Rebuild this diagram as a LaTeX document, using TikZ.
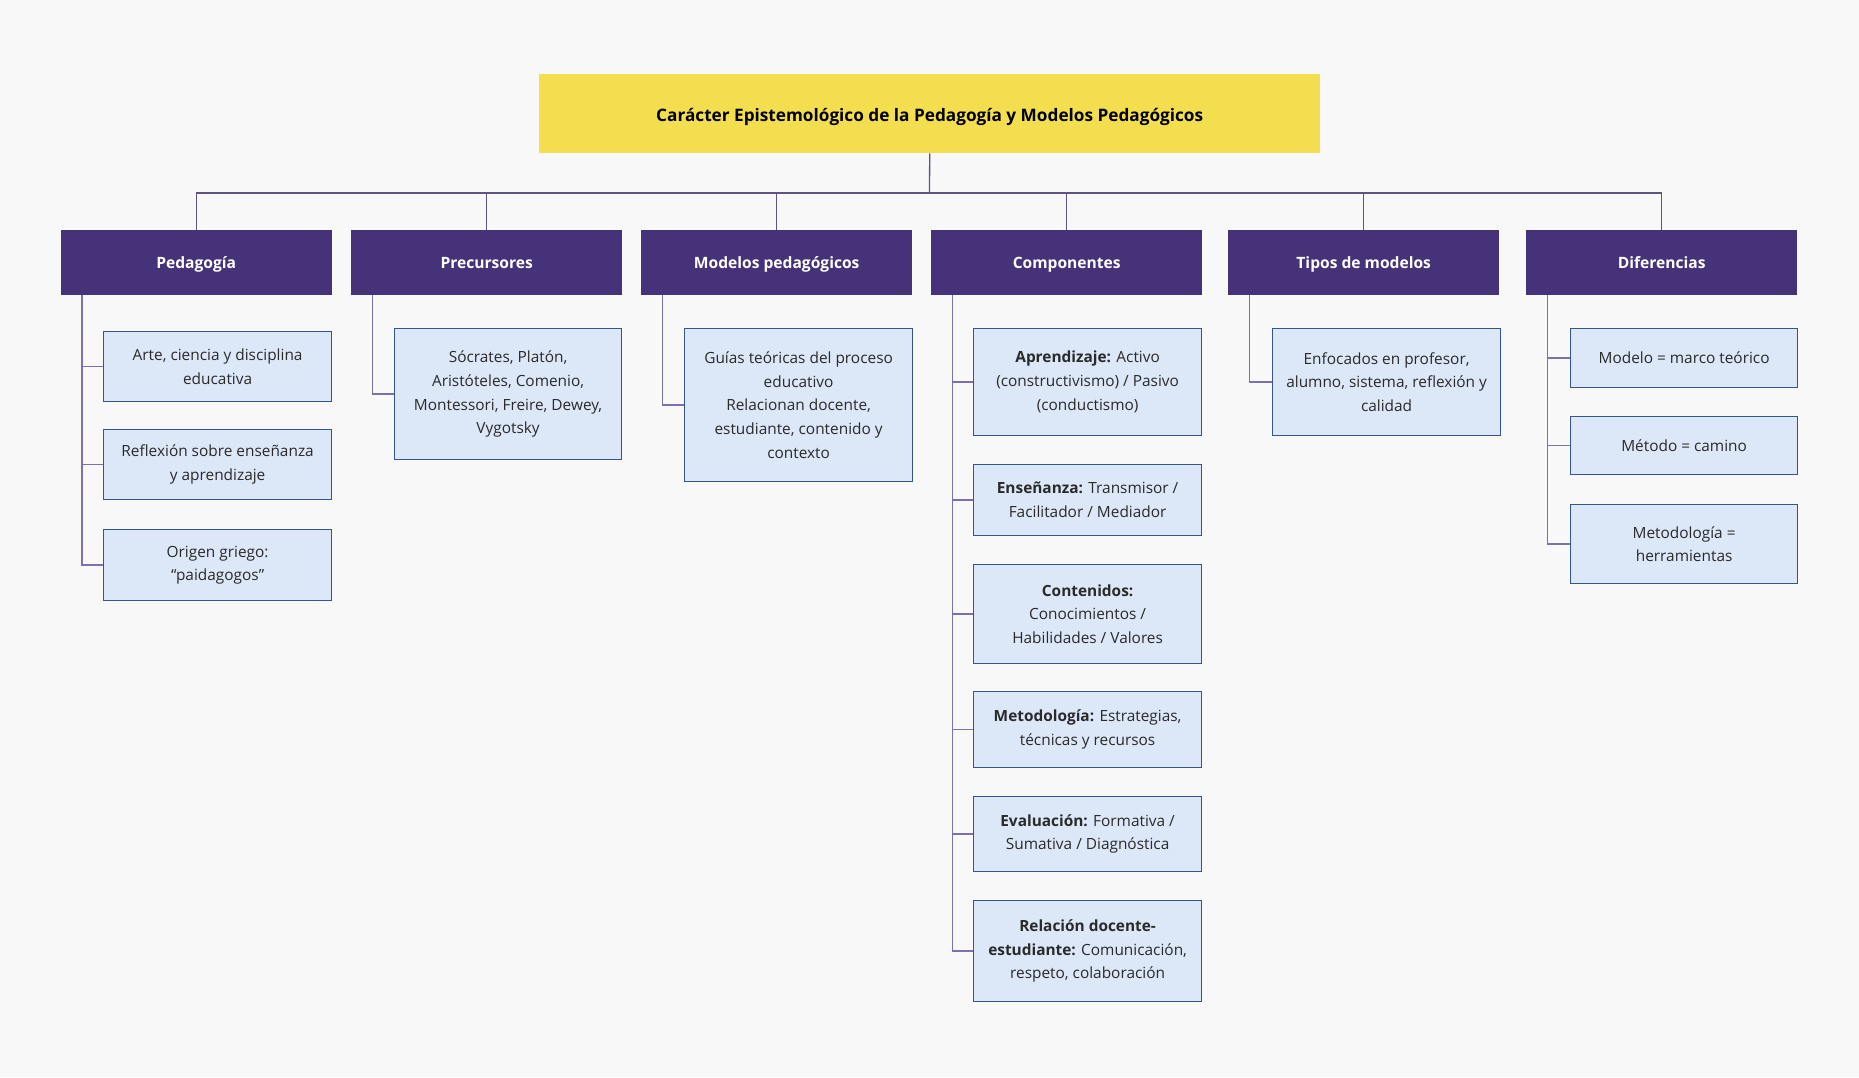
\documentclass[tikz,border=0pt]{standalone}
\usepackage{fontspec}
\setmainfont{Open Sans}
\definecolor{bg}{HTML}{F8F8F8}
\definecolor{titlefill}{HTML}{F2DE4E}
\definecolor{catfill}{HTML}{463278}
\definecolor{childfill}{HTML}{DCE7F8}
\definecolor{childline}{HTML}{34558F}
\definecolor{connline}{HTML}{7E6FAE}
\definecolor{txt}{HTML}{2A2A2A}
\begin{document}
\begin{tikzpicture}[x=1pt,y=-1pt,
  titlebox/.style={fill=titlefill, draw=none, anchor=north west, inner sep=0pt,
    text height=16pt, text depth=0pt,
    font=\fontsize{17.2}{20}\selectfont\bfseries, text=black, align=center},
  catbox/.style={fill=catfill, draw=none, anchor=north west, inner sep=0pt,
    minimum width=271pt, minimum height=65pt, text height=11pt, text depth=0pt,
    font=\fontsize{15.6}{18}\selectfont\bfseries, text=white, align=center},
  childbox/.style={fill=childfill, draw=childline, line width=1.2pt, anchor=north west, inner sep=0pt,
    font=\fontsize{15.4}{23.8}\selectfont, text=txt, align=center},
  conn/.style={draw=connline, line width=1.4pt},
  bus/.style={draw=connline!75!black, line width=1.3pt}
]
\useasboundingbox (0,0) rectangle (1859,1077);
\fill[bg] (0,0) rectangle (1859,1077);

% title
\node[titlebox, minimum width=781pt, minimum height=79.5pt] (title) at (539,73.5)
  {Carácter Epistemológico de la Pedagogía y Modelos Pedagógicos};

% categories
\node[catbox] (ped) at (60.5,230) {Pedagogía};
\node[catbox] (pre) at (351,230) {Precursores};
\node[catbox] (mod) at (641,230) {Modelos pedagógicos};
\node[catbox] (com) at (931,230) {Componentes};
\node[catbox] (tip) at (1228,230) {Tipos de modelos};
\node[catbox] (dif) at (1526,230) {Diferencias};

% bus
\coordinate (busc) at (929.5,193);
\draw[bus] (title.south) -- (busc);
\draw[bus] (ped.north) |- (busc);
\draw[bus] (dif.north) |- (busc);
\foreach \n in {pre,mod,com,tip} { \draw[bus] (\n.north) -- (\n.north |- busc); }

% Pedagogía children
\node[childbox, minimum width=228pt, minimum height=70pt] (p1) at (103,331)
  {Arte, ciencia y disciplina\\educativa};
\node[childbox, minimum width=228pt, minimum height=70pt] (p2) at (103,429)
  {Reflexión sobre enseñanza\\y aprendizaje};
\node[childbox, minimum width=228pt, minimum height=71pt] (p3) at (103,529)
  {Origen griego:\\“paidagogos”};

% Precursores child
\node[childbox, minimum width=227pt, minimum height=131pt] (r1) at (394,328)
  {Sócrates, Platón,\\Aristóteles, Comenio,\\Montessori, Freire, Dewey,\\Vygotsky};

% Modelos child
\node[childbox, minimum width=228pt, minimum height=153pt] (m1) at (684,328)
  {Guías teóricas del proceso\\educativo\\Relacionan docente,\\estudiante, contenido y\\contexto};

% Componentes children
\node[childbox, minimum width=228pt, minimum height=107pt] (a1) at (973,328)
  {\textbf{Aprendizaje:} Activo\\(constructivismo) / Pasivo\\(conductismo)};
\node[childbox, minimum width=228pt, minimum height=71.5pt] (a2) at (973,463.5)
  {\textbf{Enseñanza:} Transmisor /\\Facilitador / Mediador};
\node[childbox, minimum width=228pt, minimum height=99pt] (a3) at (973,564)
  {\textbf{Contenidos:}\\Conocimientos /\\Habilidades / Valores};
\node[childbox, minimum width=228pt, minimum height=76pt] (a4) at (973,691)
  {\textbf{Metodología:} Estrategias,\\técnicas y recursos};
\node[childbox, minimum width=228pt, minimum height=75.5pt] (a5) at (973,795.5)
  {\textbf{Evaluación:} Formativa /\\Sumativa / Diagnóstica};
\node[childbox, minimum width=228pt, minimum height=101pt] (a6) at (973,900)
  {\textbf{Relación docente-}\\\textbf{estudiante:} Comunicación,\\respeto, colaboración};

% Tipos child
\node[childbox, minimum width=228pt, minimum height=107pt] (t1) at (1272,328)
  {Enfocados en profesor,\\alumno, sistema, reflexión y\\calidad};

% Diferencias children
\node[childbox, minimum width=227pt, minimum height=58.5pt] (d1) at (1570,328)
  {Modelo = marco teórico};
\node[childbox, minimum width=227pt, minimum height=58pt] (d2) at (1570,416)
  {Método = camino};
\node[childbox, minimum width=227pt, minimum height=79pt] (d3) at (1570,504)
  {Metodología =\\herramientas};

% connectors
\foreach \c in {p1,p2,p3} { \draw[conn] ([xshift=21.5pt]ped.south west) |- (\c.west); }
\draw[conn] ([xshift=21.5pt]pre.south west) |- (r1.west);
\draw[conn] ([xshift=21.5pt]mod.south west) |- (m1.west);
\foreach \c in {a1,a2,a3,a4,a5,a6} { \draw[conn] ([xshift=21.5pt]com.south west) |- (\c.west); }
\draw[conn] ([xshift=21.5pt]tip.south west) |- (t1.west);
\foreach \c in {d1,d2,d3} { \draw[conn] ([xshift=21.5pt]dif.south west) |- (\c.west); }
\end{tikzpicture}
\end{document}
